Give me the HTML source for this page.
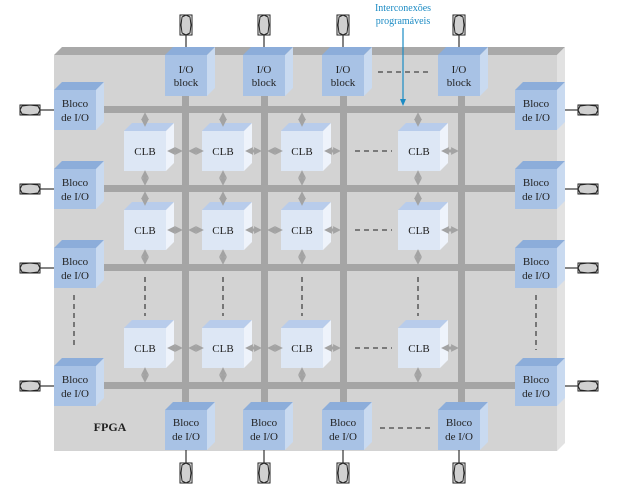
<!DOCTYPE html>
<html><head><meta charset="utf-8"><style>
body{margin:0;background:#fff;}
svg{display:block;}
text{font-family:"Liberation Serif",serif;font-size:11px;fill:#222;text-anchor:middle;}
.f{fill:#a8c2e5}.t{fill:#8cadda}.s{fill:#c9daf0}
.cf{fill:#dde7f5}.ct{fill:#b8cceb}.cs{fill:#eef3fb}
.bus{fill:#a5a5a5}
.d{stroke:#444;stroke-width:1.3;stroke-dasharray:5,4;fill:none}
.ar{stroke:#a3a3a3;stroke-width:3;fill:none;marker-start:url(#ah);marker-end:url(#ah)}
.pl{stroke:#333;stroke-width:1.2}
.pad{fill:#d0d0d0;stroke:#222;stroke-width:1}
</style></head><body>
<svg width="621" height="487" viewBox="0 0 621 487">
<defs>
<marker id="ah" viewBox="0 0 10 10" refX="5" refY="5" markerWidth="2.6" markerHeight="2.6" orient="auto-start-reverse"><path d="M0,0 L10,5 L0,10 z" fill="#a3a3a3"/></marker>
<g id="vpad"><rect x="-6" y="0" width="12" height="20" fill="#fff" stroke="#222" stroke-width="1"/><path class="pad" d="M-4,2 L0,0 L4,2 L5,10 L4,18 L0,20 L-4,18 L-5,10 z"/></g>
<g id="hpad"><rect x="0" y="-5" width="20" height="10" fill="#fff" stroke="#222" stroke-width="1"/><path class="pad" d="M2,-4 L10,-5 L18,-4 L20,0 L18,4 L10,5 L2,4 L0,0 z"/></g>
</defs>
<!-- board -->
<polygon points="54,55 62,47 565,47 557,55" fill="#a9a9a9"/>
<polygon points="557,55 565,47 565,443 557,451" fill="#e2e2e2"/>
<rect x="54" y="55" width="503" height="396" fill="#d3d3d3"/>
<!-- buses -->
<rect class="bus" x="99" y="106" width="418" height="7"/>
<rect class="bus" x="99" y="185" width="418" height="7"/>
<rect class="bus" x="99" y="264" width="418" height="7"/>
<rect class="bus" x="99" y="382" width="418" height="7"/>
<rect class="bus" x="182" y="96" width="7" height="314"/>
<rect class="bus" x="261" y="96" width="7" height="314"/>
<rect class="bus" x="340" y="96" width="7" height="314"/>
<rect class="bus" x="458" y="96" width="7" height="314"/>
<!-- pads top -->
<line class="pl" x1="186" y1="35" x2="186" y2="50"/><use href="#vpad" x="186" y="15"/>
<line class="pl" x1="264" y1="35" x2="264" y2="50"/><use href="#vpad" x="264" y="15"/>
<line class="pl" x1="343" y1="35" x2="343" y2="50"/><use href="#vpad" x="343" y="15"/>
<line class="pl" x1="459" y1="35" x2="459" y2="50"/><use href="#vpad" x="459" y="15"/>
<!-- pads bottom -->
<line class="pl" x1="186" y1="450" x2="186" y2="463"/><use href="#vpad" x="186" y="463"/>
<line class="pl" x1="264" y1="450" x2="264" y2="463"/><use href="#vpad" x="264" y="463"/>
<line class="pl" x1="343" y1="450" x2="343" y2="463"/><use href="#vpad" x="343" y="463"/>
<line class="pl" x1="459" y1="450" x2="459" y2="463"/><use href="#vpad" x="459" y="463"/>
<!-- pads left -->
<line class="pl" x1="40" y1="110" x2="54" y2="110"/><use href="#hpad" x="20" y="110"/>
<line class="pl" x1="40" y1="189" x2="54" y2="189"/><use href="#hpad" x="20" y="189"/>
<line class="pl" x1="40" y1="268" x2="54" y2="268"/><use href="#hpad" x="20" y="268"/>
<line class="pl" x1="40" y1="386" x2="54" y2="386"/><use href="#hpad" x="20" y="386"/>
<!-- pads right -->
<line class="pl" x1="565" y1="110" x2="578" y2="110"/><use href="#hpad" x="578" y="110"/>
<line class="pl" x1="565" y1="189" x2="578" y2="189"/><use href="#hpad" x="578" y="189"/>
<line class="pl" x1="565" y1="268" x2="578" y2="268"/><use href="#hpad" x="578" y="268"/>
<line class="pl" x1="565" y1="386" x2="578" y2="386"/><use href="#hpad" x="578" y="386"/>

<!-- top I/O blocks -->
<g><polygon class="t" points="165,55 173,47 215,47 207,55"/><polygon class="s" points="207,55 215,47 215,88 207,96"/><rect class="f" x="165" y="55" width="42" height="41"/><text x="186" y="73">I/O</text><text x="186" y="86">block</text></g>
<g><polygon class="t" points="243,55 251,47 293,47 285,55"/><polygon class="s" points="285,55 293,47 293,88 285,96"/><rect class="f" x="243" y="55" width="42" height="41"/><text x="264" y="73">I/O</text><text x="264" y="86">block</text></g>
<g><polygon class="t" points="322,55 330,47 372,47 364,55"/><polygon class="s" points="364,55 372,47 372,88 364,96"/><rect class="f" x="322" y="55" width="42" height="41"/><text x="343" y="73">I/O</text><text x="343" y="86">block</text></g>
<g><polygon class="t" points="438,55 446,47 488,47 480,55"/><polygon class="s" points="480,55 488,47 488,88 480,96"/><rect class="f" x="438" y="55" width="42" height="41"/><text x="459" y="73">I/O</text><text x="459" y="86">block</text></g>
<line class="d" x1="378" y1="72" x2="432" y2="72"/>

<!-- left blocks -->
<g><polygon class="t" points="54,90 62,82 104,82 96,90"/><polygon class="s" points="96,90 104,82 104,122 96,130"/><rect class="f" x="54" y="90" width="42" height="40"/><text x="75" y="107">Bloco</text><text x="75" y="121">de I/O</text></g>
<g><polygon class="t" points="54,169 62,161 104,161 96,169"/><polygon class="s" points="96,169 104,161 104,201 96,209"/><rect class="f" x="54" y="169" width="42" height="40"/><text x="75" y="186">Bloco</text><text x="75" y="200">de I/O</text></g>
<g><polygon class="t" points="54,248 62,240 104,240 96,248"/><polygon class="s" points="96,248 104,240 104,280 96,288"/><rect class="f" x="54" y="248" width="42" height="40"/><text x="75" y="265">Bloco</text><text x="75" y="279">de I/O</text></g>
<g><polygon class="t" points="54,366 62,358 104,358 96,366"/><polygon class="s" points="96,366 104,358 104,398 96,406"/><rect class="f" x="54" y="366" width="42" height="40"/><text x="75" y="383">Bloco</text><text x="75" y="397">de I/O</text></g>
<line class="d" x1="74" y1="295" x2="74" y2="346"/>

<!-- right blocks -->
<g><polygon class="t" points="515,90 523,82 565,82 557,90"/><polygon class="s" points="557,90 565,82 565,122 557,130"/><rect class="f" x="515" y="90" width="42" height="40"/><text x="536" y="107">Bloco</text><text x="536" y="121">de I/O</text></g>
<g><polygon class="t" points="515,169 523,161 565,161 557,169"/><polygon class="s" points="557,169 565,161 565,201 557,209"/><rect class="f" x="515" y="169" width="42" height="40"/><text x="536" y="186">Bloco</text><text x="536" y="200">de I/O</text></g>
<g><polygon class="t" points="515,248 523,240 565,240 557,248"/><polygon class="s" points="557,248 565,240 565,280 557,288"/><rect class="f" x="515" y="248" width="42" height="40"/><text x="536" y="265">Bloco</text><text x="536" y="279">de I/O</text></g>
<g><polygon class="t" points="515,366 523,358 565,358 557,366"/><polygon class="s" points="557,366 565,358 565,398 557,406"/><rect class="f" x="515" y="366" width="42" height="40"/><text x="536" y="383">Bloco</text><text x="536" y="397">de I/O</text></g>
<line class="d" x1="536" y1="295" x2="536" y2="350"/>

<!-- bottom blocks -->
<g><polygon class="t" points="165,410 173,402 215,402 207,410"/><polygon class="s" points="207,410 215,402 215,442 207,450"/><rect class="f" x="165" y="410" width="42" height="40"/><text x="186" y="426">Bloco</text><text x="186" y="440">de I/O</text></g>
<g><polygon class="t" points="243,410 251,402 293,402 285,410"/><polygon class="s" points="285,410 293,402 293,442 285,450"/><rect class="f" x="243" y="410" width="42" height="40"/><text x="264" y="426">Bloco</text><text x="264" y="440">de I/O</text></g>
<g><polygon class="t" points="322,410 330,402 372,402 364,410"/><polygon class="s" points="364,410 372,402 372,442 364,450"/><rect class="f" x="322" y="410" width="42" height="40"/><text x="343" y="426">Bloco</text><text x="343" y="440">de I/O</text></g>
<g><polygon class="t" points="438,410 446,402 488,402 480,410"/><polygon class="s" points="480,410 488,402 488,442 480,450"/><rect class="f" x="438" y="410" width="42" height="40"/><text x="459" y="426">Bloco</text><text x="459" y="440">de I/O</text></g>
<line class="d" x1="380" y1="428" x2="432" y2="428"/>
<text x="110" y="431" style="font-weight:bold;font-size:12px">FPGA</text>

<!-- CLBs row 1 (top 131) -->
<g><polygon class="ct" points="124,131 132,123 174,123 166,131"/><polygon class="cs" points="166,131 174,123 174,163 166,171"/><rect class="cf" x="124" y="131" width="42" height="40"/><text x="145" y="155">CLB</text></g>
<g><polygon class="ct" points="202,131 210,123 252,123 244,131"/><polygon class="cs" points="244,131 252,123 252,163 244,171"/><rect class="cf" x="202" y="131" width="42" height="40"/><text x="223" y="155">CLB</text></g>
<g><polygon class="ct" points="281,131 289,123 331,123 323,131"/><polygon class="cs" points="323,131 331,123 331,163 323,171"/><rect class="cf" x="281" y="131" width="42" height="40"/><text x="302" y="155">CLB</text></g>
<g><polygon class="ct" points="398,131 406,123 448,123 440,131"/><polygon class="cs" points="440,131 448,123 448,163 440,171"/><rect class="cf" x="398" y="131" width="42" height="40"/><text x="419" y="155">CLB</text></g>
<!-- row 2 (top 210) -->
<g><polygon class="ct" points="124,210 132,202 174,202 166,210"/><polygon class="cs" points="166,210 174,202 174,242 166,250"/><rect class="cf" x="124" y="210" width="42" height="40"/><text x="145" y="234">CLB</text></g>
<g><polygon class="ct" points="202,210 210,202 252,202 244,210"/><polygon class="cs" points="244,210 252,202 252,242 244,250"/><rect class="cf" x="202" y="210" width="42" height="40"/><text x="223" y="234">CLB</text></g>
<g><polygon class="ct" points="281,210 289,202 331,202 323,210"/><polygon class="cs" points="323,210 331,202 331,242 323,250"/><rect class="cf" x="281" y="210" width="42" height="40"/><text x="302" y="234">CLB</text></g>
<g><polygon class="ct" points="398,210 406,202 448,202 440,210"/><polygon class="cs" points="440,210 448,202 448,242 440,250"/><rect class="cf" x="398" y="210" width="42" height="40"/><text x="419" y="234">CLB</text></g>
<!-- row 3 (top 328) -->
<g><polygon class="ct" points="124,328 132,320 174,320 166,328"/><polygon class="cs" points="166,328 174,320 174,360 166,368"/><rect class="cf" x="124" y="328" width="42" height="40"/><text x="145" y="352">CLB</text></g>
<g><polygon class="ct" points="202,328 210,320 252,320 244,328"/><polygon class="cs" points="244,328 252,320 252,360 244,368"/><rect class="cf" x="202" y="328" width="42" height="40"/><text x="223" y="352">CLB</text></g>
<g><polygon class="ct" points="281,328 289,320 331,320 323,328"/><polygon class="cs" points="323,328 331,320 331,360 323,368"/><rect class="cf" x="281" y="328" width="42" height="40"/><text x="302" y="352">CLB</text></g>
<g><polygon class="ct" points="398,328 406,320 448,320 440,328"/><polygon class="cs" points="440,328 448,320 448,360 440,368"/><rect class="cf" x="398" y="328" width="42" height="40"/><text x="419" y="352">CLB</text></g>

<!-- dashed fills -->
<line class="d" x1="355" y1="151" x2="392" y2="151"/>
<line class="d" x1="355" y1="230" x2="392" y2="230"/>
<line class="d" x1="355" y1="348" x2="392" y2="348"/>
<line class="d" x1="145" y1="277" x2="145" y2="316"/>
<line class="d" x1="223" y1="277" x2="223" y2="316"/>
<line class="d" x1="302" y1="277" x2="302" y2="316"/>
<line class="d" x1="418" y1="277" x2="418" y2="316"/>

<!-- vertical arrows -->
<g class="ar">
<line x1="145" y1="116" x2="145" y2="123"/><line x1="223" y1="116" x2="223" y2="123"/><line x1="302" y1="116" x2="302" y2="123"/><line x1="418" y1="116" x2="418" y2="123"/>
<line x1="145" y1="174" x2="145" y2="182"/><line x1="223" y1="174" x2="223" y2="182"/><line x1="302" y1="174" x2="302" y2="182"/><line x1="418" y1="174" x2="418" y2="182"/>
<line x1="145" y1="195" x2="145" y2="202"/><line x1="223" y1="195" x2="223" y2="202"/><line x1="302" y1="195" x2="302" y2="202"/><line x1="418" y1="195" x2="418" y2="202"/>
<line x1="145" y1="253" x2="145" y2="261"/><line x1="223" y1="253" x2="223" y2="261"/><line x1="302" y1="253" x2="302" y2="261"/><line x1="418" y1="253" x2="418" y2="261"/>
<line x1="145" y1="371" x2="145" y2="379"/><line x1="223" y1="371" x2="223" y2="379"/><line x1="302" y1="371" x2="302" y2="379"/><line x1="418" y1="371" x2="418" y2="379"/>
</g>
<!-- horizontal arrows -->
<g class="ar">
<line x1="171" y1="151" x2="179" y2="151"/><line x1="192" y1="151" x2="200" y2="151"/>
<line x1="249" y1="151" x2="258" y2="151"/><line x1="271" y1="151" x2="279" y2="151"/>
<line x1="445" y1="151" x2="455" y2="151"/>
<line x1="171" y1="230" x2="179" y2="230"/><line x1="192" y1="230" x2="200" y2="230"/>
<line x1="249" y1="230" x2="258" y2="230"/><line x1="271" y1="230" x2="279" y2="230"/>
<line x1="445" y1="230" x2="455" y2="230"/>
<line x1="171" y1="348" x2="179" y2="348"/><line x1="192" y1="348" x2="200" y2="348"/>
<line x1="249" y1="348" x2="258" y2="348"/><line x1="271" y1="348" x2="279" y2="348"/>
<line x1="445" y1="348" x2="455" y2="348"/>
</g>
<g class="ar">
<line x1="328" y1="151" x2="337" y2="151"/><line x1="328" y1="230" x2="337" y2="230"/><line x1="328" y1="348" x2="337" y2="348"/>
</g>

<!-- label -->
<text x="403" y="11" style="fill:#1c8bc4;font-size:10px">Interconexões</text>
<text x="403" y="24" style="fill:#1c8bc4;font-size:10px">programáveis</text>
<line x1="403" y1="28" x2="403" y2="100" stroke="#1c8bc4" stroke-width="1.2"/>
<polygon points="400,99 406,99 403,106" fill="#1c8bc4"/>
</svg>
</body></html>
